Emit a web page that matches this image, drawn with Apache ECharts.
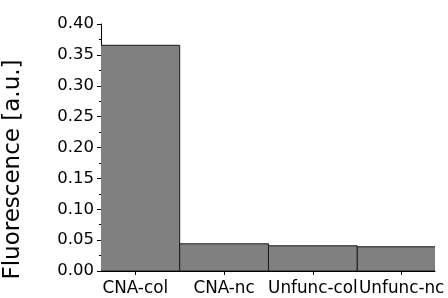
<!DOCTYPE html>
<html>
<head>
<meta charset="utf-8">
<script src="https://cdn.jsdelivr.net/npm/echarts@6/dist/echarts.min.js"></script>
<style>
  html, body { margin: 0; padding: 0; background: #fff; }
  #chart { width: 448px; height: 298px; }
</style>
</head>
<body>
<div id="chart"></div>
<script>
// data
var categories = ['CNA-col', 'CNA-nc', 'Unfunc-col', 'Unfunc-nc'];
var positions = [1, 2, 3, 4];
var fluorescence = [0.3655, 0.044, 0.0408, 0.0392];
var yTicks = [0, 0.05, 0.1, 0.15, 0.2, 0.25, 0.3, 0.35, 0.4];

var chart = echarts.init(document.getElementById('chart'));

var barData = positions.map(function (p, i) {
  return [p, fluorescence[i]];
});

// bars are one unit wide and get cut by the grid (first and last one)
function renderBar(params, api) {
  var x = api.value(0), y = api.value(1);
  var p0 = api.coord([x - 0.5, y]);
  var p1 = api.coord([x + 0.5, 0]);
  return {
    type: 'rect',
    shape: { x: p0[0], y: p0[1], width: p1[0] - p0[0], height: p1[1] - p0[1] },
    style: { fill: '#808080', stroke: '#1a1a1a', lineWidth: 1 }
  };
}

chart.setOption({
  animation: false,
  textStyle: { fontFamily: 'DejaVu Sans' },
  grid: { left: 101, right: 13, top: 24, bottom: 27, outerBoundsMode: 'none' },
  xAxis: {
    type: 'value',
    min: 0.614,
    max: 4.375,
    splitLine: { show: false },
    axisLine: { lineStyle: { color: '#000', width: 1 } },
    axisTick: {
      customValues: positions,
      length: 4,
      lineStyle: { color: '#000' }
    },
    axisLabel: {
      customValues: positions,
      color: '#000',
      fontSize: 16.8,
      margin: 9,
      hideOverlap: false,
      formatter: function (v) {
        return categories[Math.round(v) - 1];
      }
    }
  },
  yAxis: {
    type: 'value',
    min: 0,
    max: 0.4,
    interval: 0.05,
    name: 'Fluorescence [a.u.]',
    nameLocation: 'middle',
    nameRotate: 90,
    nameGap: 76,
    nameTextStyle: { color: '#000', fontSize: 23, padding: [0, 44, 0, 0] },
    splitLine: { show: false },
    axisLine: { show: true, lineStyle: { color: '#000', width: 1 } },
    axisTick: { show: true, length: 4, lineStyle: { color: '#000' } },
    minorTick: { show: true, splitNumber: 2, length: 2, lineStyle: { color: '#000' } },
    axisLabel: {
      color: '#000',
      fontSize: 16.5,
      margin: 7,
      customValues: yTicks,
      formatter: function (v) { return v.toFixed(2); }
    }
  },
  series: [{
    type: 'custom',
    data: barData,
    clip: true,
    renderItem: renderBar,
    z: 1
  }]
});
</script>
</body>
</html>
